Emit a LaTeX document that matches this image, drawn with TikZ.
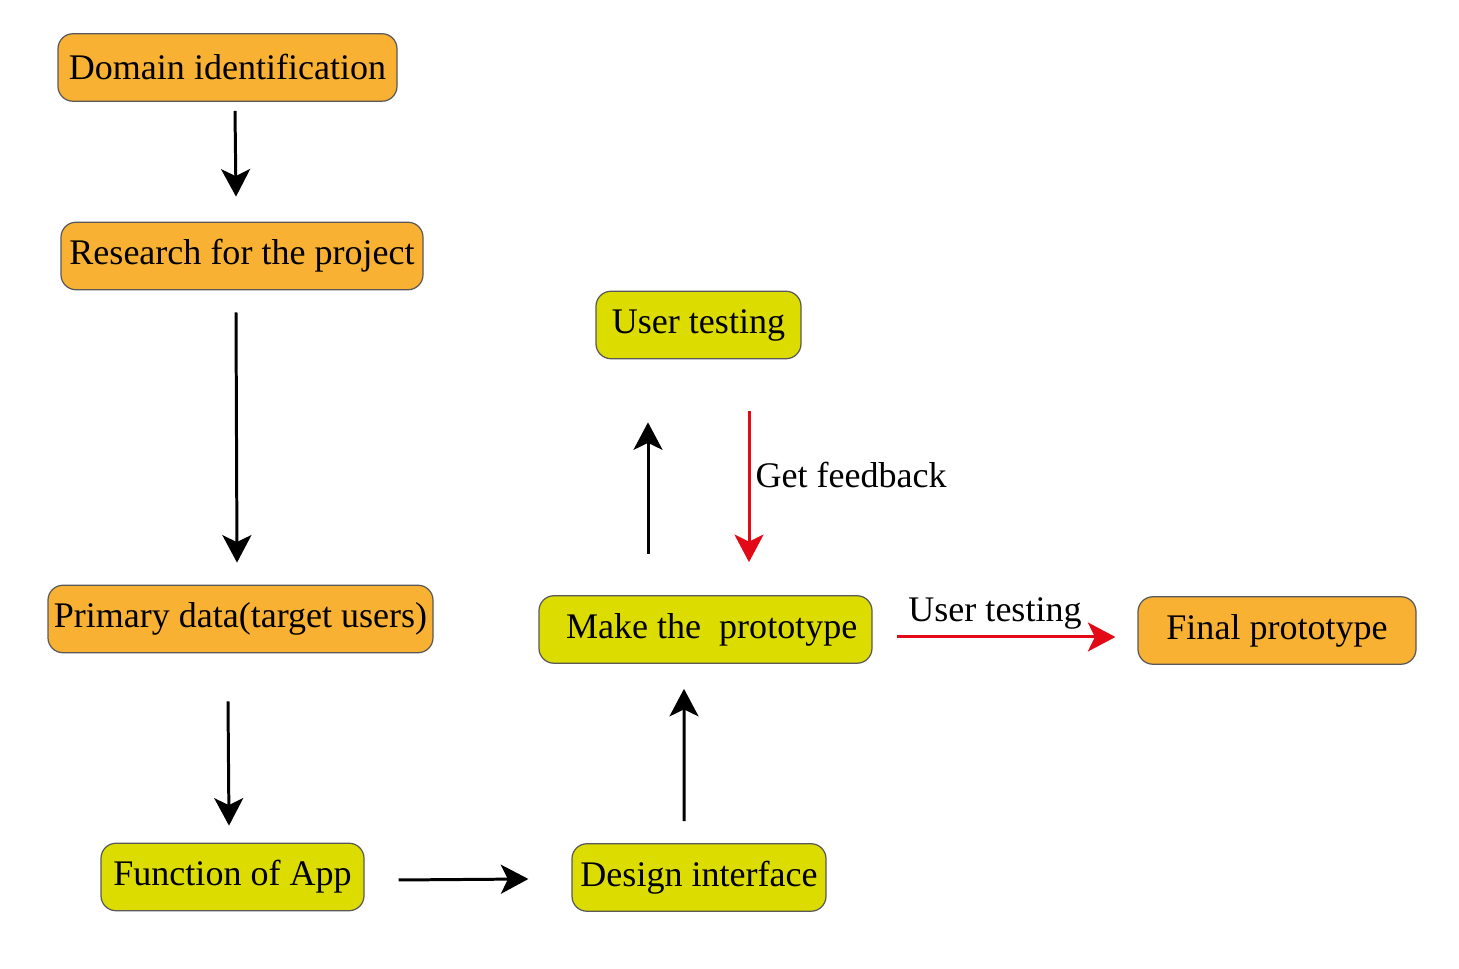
\documentclass[tikz,border=0pt]{standalone}
\usepackage{fontspec}
\setmainfont{Liberation Serif}
\usetikzlibrary{arrows.meta}
\definecolor{boxorange}{HTML}{F8B133}
\definecolor{boxlime}{HTML}{DCDC00}
\definecolor{fbred}{HTML}{E30A17}
\begin{document}
\begin{tikzpicture}[
    box/.style={draw=black!65,line width=0.7pt,rounded corners=0.3cm,minimum height=1.35cm,inner sep=0pt,font=\fontsize{20.5}{24}\selectfont},
    orangebox/.style={box,fill=boxorange},
    limebox/.style={box,fill=boxlime},
    arr/.style={line width=1.7pt,-{Stealth[length=0.55cm,width=0.58cm,inset=0.14cm]}},
    redarr/.style={arr,fbred},
    lbl/.style={font=\fontsize{20.5}{24}\selectfont}]
  \useasboundingbox (0,0) rectangle (29.18,19.38);
  \node[orangebox,minimum width=6.78cm] (dom) at (4.55,18.03) {Domain identification};
  \node[orangebox,minimum width=7.24cm] (res) at (4.84,14.26) {Research for the project};
  \node[orangebox,minimum width=7.70cm] (prim) at (4.81,7.00) {Primary data(target users)};
  \node[limebox,minimum width=5.26cm] (func) at (4.65,1.84) {Function of App};
  \node[limebox,minimum width=5.08cm] (des) at (13.98,1.83) {Design interface};
  \node[limebox,minimum width=6.66cm] (make) at (14.11,6.79) {\hspace{0.25cm}Make the\ \ prototype};
  \node[limebox,minimum width=4.10cm] (usr) at (13.97,12.88) {User testing};
  \node[orangebox,minimum width=5.56cm] (fin) at (25.54,6.77) {Final prototype};
  \draw[arr] ([xshift=0.15cm,yshift=-0.18cm]dom.south) -- ([xshift=-0.12cm,yshift=0.5cm]res.north);
  \draw[arr] ([xshift=-0.12cm,yshift=-0.44cm]res.south) -- ([xshift=-0.07cm,yshift=0.44cm]prim.north);
  \draw[arr] ([xshift=-0.25cm,yshift=-0.96cm]prim.south) -- ([xshift=-0.07cm,yshift=0.34cm]func.north);
  \draw[arr] ([xshift=0.68cm,yshift=-0.06cm]func.east) -- ([xshift=-0.86cm,yshift=-0.03cm]des.west);
  \draw[arr] ([xshift=-0.30cm,yshift=0.44cm]des.north) -- ([xshift=-0.43cm,yshift=-0.5cm]make.south);
  \draw[arr] ([xshift=-1.15cm,yshift=0.82cm]make.north) -- ([xshift=-1.01cm,yshift=-1.26cm]usr.south);
  \draw[redarr] ([xshift=1.01cm,yshift=-1.04cm]usr.south) -- ([xshift=0.87cm,yshift=0.66cm]make.north)
    node[lbl,pos=0.42,anchor=west,black,inner sep=0.1cm] {Get feedback};
  \draw[redarr] ([xshift=0.48cm,yshift=-0.15cm]make.east) -- ([xshift=-0.44cm,yshift=-0.13cm]fin.west)
    node[lbl,midway,above,xshift=-0.22cm,black,inner sep=0.13cm] {User testing};
\end{tikzpicture}
\end{document}
